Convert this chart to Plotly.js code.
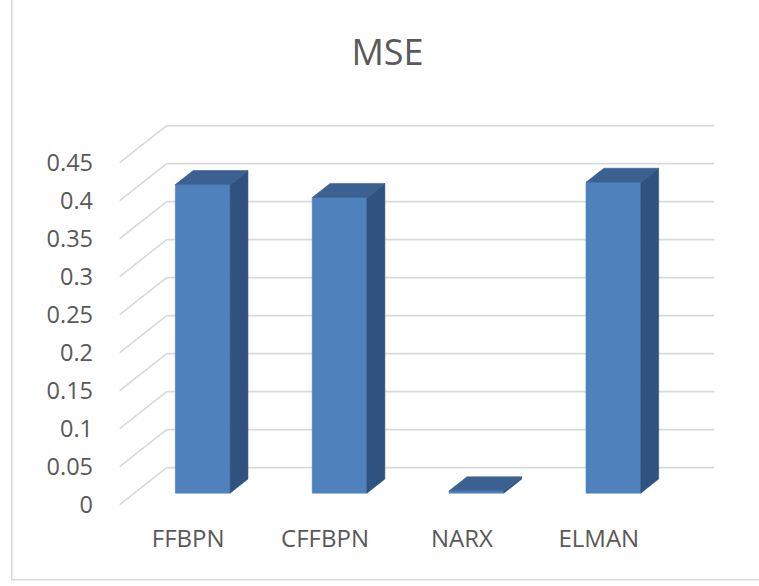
<!DOCTYPE html>
<html>
<head>
<meta charset="utf-8">
<script src="https://cdn.plot.ly/plotly-3.0.1.min.js"></script>
<style>
  html, body { margin: 0; padding: 0; background: #ffffff; }
  #chart { width: 759px; height: 586px; }
</style>
</head>
<body>
<div id="chart"></div>
<script>
// MSE per network type
const models = ['FFBPN', 'CFFBPN', 'NARX', 'ELMAN'];
const mse = [0.406, 0.389, 0.003, 0.409];
const yTicks = [0, 0.05, 0.1, 0.15, 0.2, 0.25, 0.3, 0.35, 0.4, 0.45];
const yTickLabels = ['0', '0.05', '0.1', '0.15', '0.2', '0.25', '0.3', '0.35', '0.4', '0.45'];

// oblique projection of the depth axis, in data units
const depthX = 0.3437;   // horizontal shift from front plane to back wall
const depthY = 0.0487;   // vertical shift from front plane to back wall
const barWidth = 0.40;   // fraction of a category slot
const barFront = 0.31;   // bar front face, as fraction of depth
const barBack = 0.69;    // bar back face, as fraction of depth
const nCat = models.length;

const gridColor = '#d9d9d9';
const frontColor = '#4f81bd';
const topColor = '#3b6092';
const sideColor = '#30527e';

// back wall lines and side wall diagonals
const gx = [], gy = [];
yTicks.forEach(v => {
  gx.push(0, depthX, nCat + depthX, null);
  gy.push(v, v + depthY, v + depthY, null);
});

// faces of each 3D column
const fx = [], fy = [], sx = [], sy = [], tx = [], ty = [];
models.forEach((m, i) => {
  const v = mse[i];
  const c = i + 0.5;
  const xl = c - barWidth / 2, xr = c + barWidth / 2;
  const ax = barFront * depthX, ay = barFront * depthY;
  const bx = barBack * depthX, by = barBack * depthY;
  fx.push(xl + ax, xr + ax, xr + ax, xl + ax, xl + ax, null);
  fy.push(ay, ay, v + ay, v + ay, ay, null);
  sx.push(xr + ax, xr + bx, xr + bx, xr + ax, xr + ax, null);
  sy.push(ay, by, v + by, v + ay, ay, null);
  tx.push(xl + ax, xr + ax, xr + bx, xl + bx, xl + ax, null);
  ty.push(v + ay, v + ay, v + by, v + by, v + ay, null);
});

const face = (x, y, color) => ({
  x: x, y: y, type: 'scatter', mode: 'lines', fill: 'toself',
  fillcolor: color, line: { color: color, width: 0.6 },
  hoverinfo: 'skip', showlegend: false
});

const traces = [
  { x: gx, y: gy, type: 'scatter', mode: 'lines',
    line: { color: gridColor, width: 1.6 }, hoverinfo: 'skip', showlegend: false },
  face(fx, fy, frontColor),
  face(sx, sy, sideColor),
  face(tx, ty, topColor)
];

const fontFamily = 'Open Sans, Noto Sans, sans-serif';

const layout = {
  width: 759, height: 586,
  margin: { l: 106, r: 37, t: 117, b: 70 },
  paper_bgcolor: '#ffffff', plot_bgcolor: 'rgba(0,0,0,0)',
  showlegend: false,
  title: {
    text: 'MSE',
    font: { family: fontFamily, size: 36, color: '#595959' },
    x: 0.5105, xref: 'container', xanchor: 'center',
    y: 0.911, yref: 'container', yanchor: 'middle'
  },
  xaxis: {
    range: [-0.1, 4.4], showgrid: false, zeroline: false, showline: false,
    tickmode: 'array', tickvals: models.map((m, i) => i + 0.5), ticktext: models,
    ticks: '', tickfont: { family: fontFamily, size: 24, color: '#595959' },
    ticklabelstandoff: 6, fixedrange: true
  },
  yaxis: {
    range: [-0.015, 0.51], showgrid: false, zeroline: false, showline: false,
    tickmode: 'array', tickvals: yTicks, ticktext: yTickLabels,
    ticks: '', tickfont: { family: fontFamily, size: 23.5, color: '#595959' },
    ticklabelstandoff: 12, fixedrange: true
  },
  shapes: [{
    type: 'rect', xref: 'paper', yref: 'paper',
    x0: -0.153, x1: 1.3, y0: -0.160, y1: 1.5,
    line: { color: '#d9d9d9', width: 1.5 }, fillcolor: 'rgba(0,0,0,0)', layer: 'below'
  }]
};

Plotly.newPlot('chart', traces, layout, { displayModeBar: false, staticPlot: true });
</script>
</body>
</html>
